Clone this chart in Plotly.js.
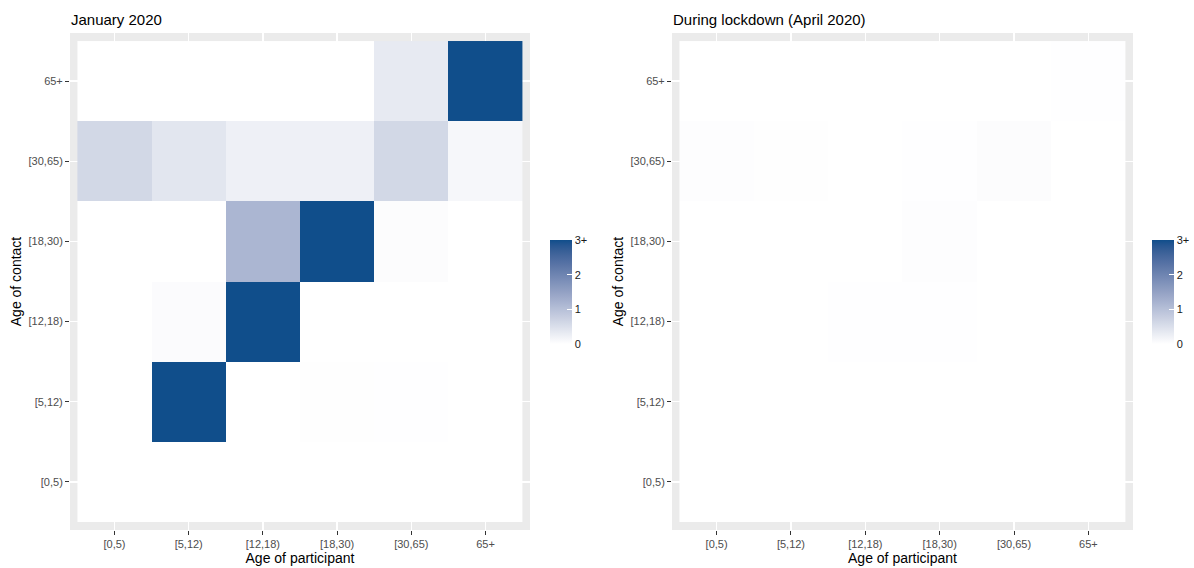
<!DOCTYPE html>
<html>
<head>
<meta charset="utf-8">
<script src="https://cdn.plot.ly/plotly-3.0.1.min.js"></script>
<style>html,body{margin:0;padding:0;background:#fff;}#chart{width:1194px;height:568px;}</style>
</head>
<body>
<div id="chart"></div>
<script>
// ---- data ----
var ageGroups = ['[0,5)', '[5,12)', '[12,18)', '[18,30)', '[30,65)', '65+'];
var panelTitles = ['January 2020', 'During lockdown (April 2020)'];
var colorTickVals = [0, 1, 2, 3];
var colorTickText = ['0', '1', '2', '3+'];
// rows = age of contact ([0,5) ... 65+), columns = age of participant
var janValues = [
  [0.000, 0.000, 0.000, 0.000, 0.006, 0.005],
  [0.000, 3.000, 0.000, 0.015, 0.012, 0.000],
  [0.000, 0.060, 3.000, 0.000, 0.000, 0.000],
  [0.000, 0.000, 1.160, 3.000, 0.040, 0.000],
  [0.620, 0.390, 0.230, 0.230, 0.620, 0.120],
  [0.000, 0.000, 0.005, 0.000, 0.330, 3.000]
];
var aprValues = [
  [0.003, 0.003, 0.003, 0.003, 0.003, 0.003],
  [0.003, 0.003, 0.003, 0.003, 0.003, 0.003],
  [0.003, 0.003, 0.010, 0.010, 0.003, 0.003],
  [0.003, 0.003, 0.003, 0.030, 0.003, 0.003],
  [0.030, 0.020, 0.005, 0.010, 0.040, 0.005],
  [0.005, 0.005, 0.005, 0.005, 0.005, 0.008]
];

// ---- colour scale: white -> dodgerblue4 interpolated in Lab (like ggplot) ----
function srgbToLin(c){c/=255;return c<=0.04045?c/12.92:Math.pow((c+0.055)/1.055,2.4);}
function linToSrgb(c){var v=c<=0.0031308?12.92*c:1.055*Math.pow(c,1/2.4)-0.055;return Math.max(0,Math.min(255,Math.round(v*255)));}
function hexToLab(h){
  var r=srgbToLin(parseInt(h.substr(1,2),16)),g=srgbToLin(parseInt(h.substr(3,2),16)),b=srgbToLin(parseInt(h.substr(5,2),16));
  var X=(0.4124*r+0.3576*g+0.1805*b)/0.95047,Y=(0.2126*r+0.7152*g+0.0722*b),Z=(0.0193*r+0.1192*g+0.9505*b)/1.08883;
  function f(t){return t>0.008856?Math.cbrt(t):(7.787*t+16/116);}
  var fx=f(X),fy=f(Y),fz=f(Z);
  return [116*fy-16,500*(fx-fy),200*(fy-fz)];
}
function labToRgb(L,a,b){
  var fy=(L+16)/116,fx=fy+a/500,fz=fy-b/200;
  function fi(t){return t*t*t>0.008856?t*t*t:(t-16/116)/7.787;}
  var X=fi(fx)*0.95047,Y=fi(fy),Z=fi(fz)*1.08883;
  var r=3.2406*X-1.5372*Y-0.4986*Z,g=-0.9689*X+1.8758*Y+0.0415*Z,bb=0.0557*X-0.2040*Y+1.0570*Z;
  return 'rgb('+linToSrgb(r)+','+linToSrgb(g)+','+linToSrgb(bb)+')';
}
var lowLab=hexToLab('#FFFFFF'),highLab=hexToLab('#104E8B');
var colorscale=[];
for(var i=0;i<=20;i++){
  var t=i/20;
  colorscale.push([t,labToRgb(lowLab[0]+(highLab[0]-lowLab[0])*t,lowLab[1]+(highLab[1]-lowLab[1])*t,lowLab[2]+(highLab[2]-lowLab[2])*t)]);
}

var W=1194,H=568;
function px(x){return x/W;}
function py(y){return (H-y)/H;}

function cbar(xLeft){
  return {
    x: px(xLeft), xanchor:'left', xpad:0, ypad:0,
    y: py(292), yanchor:'middle',
    len:104, lenmode:'pixels', thickness:22, thicknessmode:'pixels',
    outlinewidth:0,
    tickvals: colorTickVals, ticktext: colorTickText,
    ticks:'inside', ticklen:5, tickcolor:'#FFFFFF', tickwidth:1,
    tickfont:{size:11,color:'#1A1A1A',family:'Liberation Sans, Arial, sans-serif'}
  };
}

var traces=[
  {type:'heatmap', x:ageGroups, y:ageGroups, z:janValues, xaxis:'x', yaxis:'y',
   colorscale:colorscale, zmin:0, zmax:3, colorbar:cbar(550), hoverinfo:'skip'},
  {type:'heatmap', x:ageGroups, y:ageGroups, z:aprValues, xaxis:'x2', yaxis:'y2',
   colorscale:colorscale, zmin:0, zmax:3, colorbar:cbar(1152), hoverinfo:'skip'}
];

var fontFam='Liberation Sans, Arial, sans-serif';
function xAx(d0,d1,anchor){
  return {domain:[px(d0),px(d1)], anchor:anchor, type:'category', range:[-0.6,5.6],
    showgrid:true, gridcolor:'#FFFFFF', gridwidth:1.5, zeroline:false, showline:false,
    ticks:'outside', ticklen:4, tickwidth:1, tickcolor:'#333333',
    tickfont:{size:11,color:'#4D4D4D',family:fontFam},
    title:{text:'Age of participant', font:{size:14,color:'#000000',family:fontFam}, standoff:3},
    fixedrange:true};
}
function yAx(anchor){
  return {domain:[py(530),py(33)], anchor:anchor, type:'category', range:[-0.6,5.6],
    showgrid:true, gridcolor:'#FFFFFF', gridwidth:1.5, zeroline:false, showline:false,
    ticks:'outside', ticklen:4, tickwidth:1, tickcolor:'#333333',
    tickfont:{size:11,color:'#4D4D4D',family:fontFam},
    title:{text:'Age of contact', font:{size:14,color:'#000000',family:fontFam}, standoff:3},
    fixedrange:true};
}

var layout={
  width:W, height:H,
  margin:{l:0,r:0,t:0,b:0,autoexpand:false},
  paper_bgcolor:'#FFFFFF', plot_bgcolor:'#EBEBEB',
  font:{family:fontFam},
  xaxis:xAx(70,530,'y'), yaxis:yAx('x'),
  xaxis2:xAx(672,1133,'y2'), yaxis2:yAx('x2'),
  annotations:[
    {text:panelTitles[0], xref:'paper', yref:'paper', x:px(69), y:py(19), xanchor:'left', yanchor:'middle', showarrow:false, font:{size:15,color:'#000000',family:fontFam}},
    {text:panelTitles[1], xref:'paper', yref:'paper', x:px(671), y:py(19), xanchor:'left', yanchor:'middle', showarrow:false, font:{size:15,color:'#000000',family:fontFam}}
  ]
};

Plotly.newPlot('chart', traces, layout, {displayModeBar:false, staticPlot:true});
</script>
</body>
</html>
